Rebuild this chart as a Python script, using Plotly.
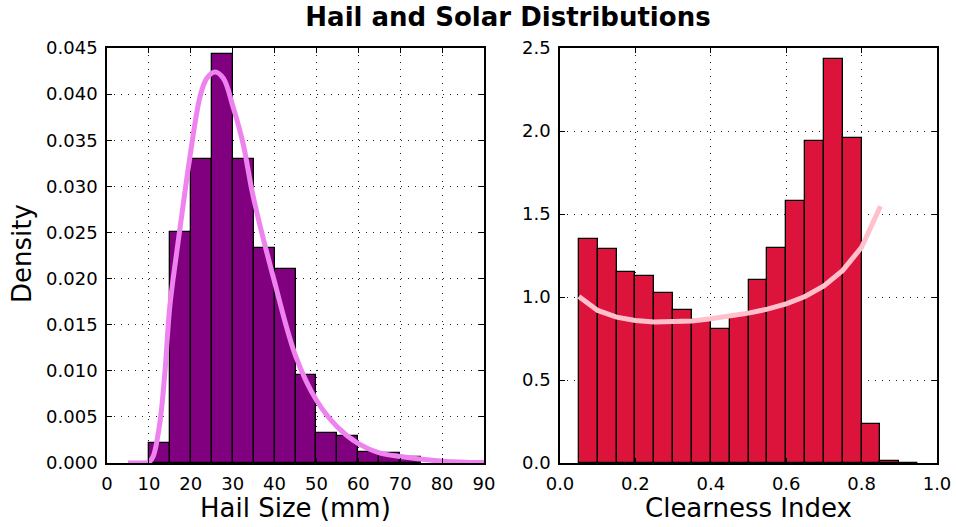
import plotly.graph_objects as go

# ---- Hail data ----
hail_bin_left = [10, 15, 20, 25, 30, 35, 40, 45, 50, 55, 60, 65, 70]
hail_density = [0.0022, 0.0250, 0.0330, 0.0443, 0.0330, 0.0233, 0.0210,
                0.0095, 0.0033, 0.0029, 0.0012, 0.00105, 0.0006]
hail_bin_width = 5
hail_fit_x = [5, 8, 10, 11, 12.6, 13.8, 15, 16.6, 17.8, 19.8, 22.2, 23.8, 25.8,
              27.8, 30.1, 32.5, 34.9, 39.9, 45.1, 50, 55, 60, 65, 70, 80, 90]
hail_fit_y = [0, 0, 0.0001, 0.0007, 0.0043, 0.0097, 0.0170, 0.0227, 0.0267,
              0.0332, 0.0397, 0.0417, 0.0424, 0.0417, 0.0386, 0.0346, 0.0289,
              0.0198, 0.0115, 0.0068, 0.0039, 0.0021, 0.0011, 0.0007, 0.0002, 0.00005]

# ---- Solar data ----
solar_bin_left = [0.05, 0.10, 0.15, 0.20, 0.25, 0.30, 0.35, 0.40, 0.45, 0.50,
                  0.55, 0.60, 0.65, 0.70, 0.75, 0.80, 0.85, 0.90]
solar_density = [1.347, 1.288, 1.150, 1.124, 1.026, 0.923, 0.860, 0.809, 0.883,
                 1.102, 1.297, 1.580, 1.941, 2.433, 1.955, 0.237, 0.014, 0.0]
solar_bin_width = 0.05
solar_fit_x = [0.05, 0.10, 0.15, 0.20, 0.25, 0.30, 0.35, 0.40, 0.45, 0.50,
               0.55, 0.60, 0.65, 0.70, 0.75, 0.80, 0.85]
solar_fit_y = [1.003, 0.919, 0.879, 0.859, 0.849, 0.849, 0.855, 0.869, 0.883,
               0.903, 0.927, 0.959, 1.003, 1.066, 1.160, 1.300, 1.547]

hail_ticks = list(range(0, 91, 10))
hail_yticks = [i * 0.005 for i in range(10)]
solar_xticks = [0.0, 0.2, 0.4, 0.6, 0.8, 1.0]
solar_yticks = [0.0, 0.5, 1.0, 1.5, 2.0, 2.5]

FONT = "DejaVu Sans"
W, H = 956, 527

fig = go.Figure()
fig.add_trace(go.Bar(
    x=[b + hail_bin_width / 2 for b in hail_bin_left], y=hail_density,
    width=hail_bin_width, marker=dict(color="#800080", line=dict(color="black", width=1.3)),
    xaxis="x", yaxis="y", showlegend=False))
fig.add_trace(go.Scatter(
    x=hail_fit_x, y=hail_fit_y, mode="lines", line=dict(color="#EE82EE", width=5, shape="spline"),
    xaxis="x", yaxis="y", showlegend=False))
fig.add_trace(go.Bar(
    x=[b + solar_bin_width / 2 for b in solar_bin_left], y=solar_density,
    width=solar_bin_width, marker=dict(color="#DC143C", line=dict(color="black", width=1.3)),
    xaxis="x2", yaxis="y2", showlegend=False))
fig.add_trace(go.Scatter(
    x=solar_fit_x, y=solar_fit_y, mode="lines", line=dict(color="#FFC0CB", width=5),
    xaxis="x2", yaxis="y2", showlegend=False))

ax_common = dict(showline=True, linecolor="black", linewidth=1.5, mirror="allticks",
                 ticks="inside", ticklen=5, tickcolor="black", tickwidth=1,
                 showgrid=True, gridcolor="#222222", griddash="1px,6px", gridwidth=1.2,
                 zeroline=False, automargin=False, ticklabelstandoff=4,
                 tickfont=dict(family=FONT, size=18, color="black"))

xl, xr = 107 / W, 484 / W
x2l, x2r = 560 / W, 937 / W
yb, yt = 1 - 463 / H, 1 - 48 / H

label_font = dict(family=FONT, size=26, color="black")

fig.update_layout(
    width=W, height=H, margin=dict(l=0, r=0, t=0, b=0),
    paper_bgcolor="white", plot_bgcolor="white", bargap=0,
    title=dict(text="<b>Hail and Solar Distributions</b>", x=508 / W, xanchor="center",
               y=1 - 17 / H, yanchor="middle", font=dict(family=FONT, size=26, color="black")),
    xaxis=dict(domain=[xl, xr], range=[0, 90], tickvals=hail_ticks, anchor="y", **ax_common),
    yaxis=dict(domain=[yb, yt], range=[0, 0.045], tickvals=hail_yticks, tickformat=".3f",
               anchor="x", **ax_common),
    xaxis2=dict(domain=[x2l, x2r], range=[0, 1.0], tickvals=solar_xticks, tickformat=".1f",
                anchor="y2", **ax_common),
    yaxis2=dict(domain=[yb, yt], range=[0, 2.5], tickvals=solar_yticks, tickformat=".1f",
                anchor="x2", **ax_common),
    annotations=[
        dict(text="Hail Size (mm)", x=(xl + xr) / 2, y=1 - 508 / H, xref="paper", yref="paper",
             xanchor="center", yanchor="middle", showarrow=False, font=label_font),
        dict(text="Clearness Index", x=(x2l + x2r) / 2, y=1 - 508 / H, xref="paper", yref="paper",
             xanchor="center", yanchor="middle", showarrow=False, font=label_font),
        dict(text="Density", x=22 / W, y=1 - 254 / H, xref="paper", yref="paper",
             xanchor="center", yanchor="middle", showarrow=False, textangle=-90, font=label_font),
    ],
)

fig.write_html("out.html")
